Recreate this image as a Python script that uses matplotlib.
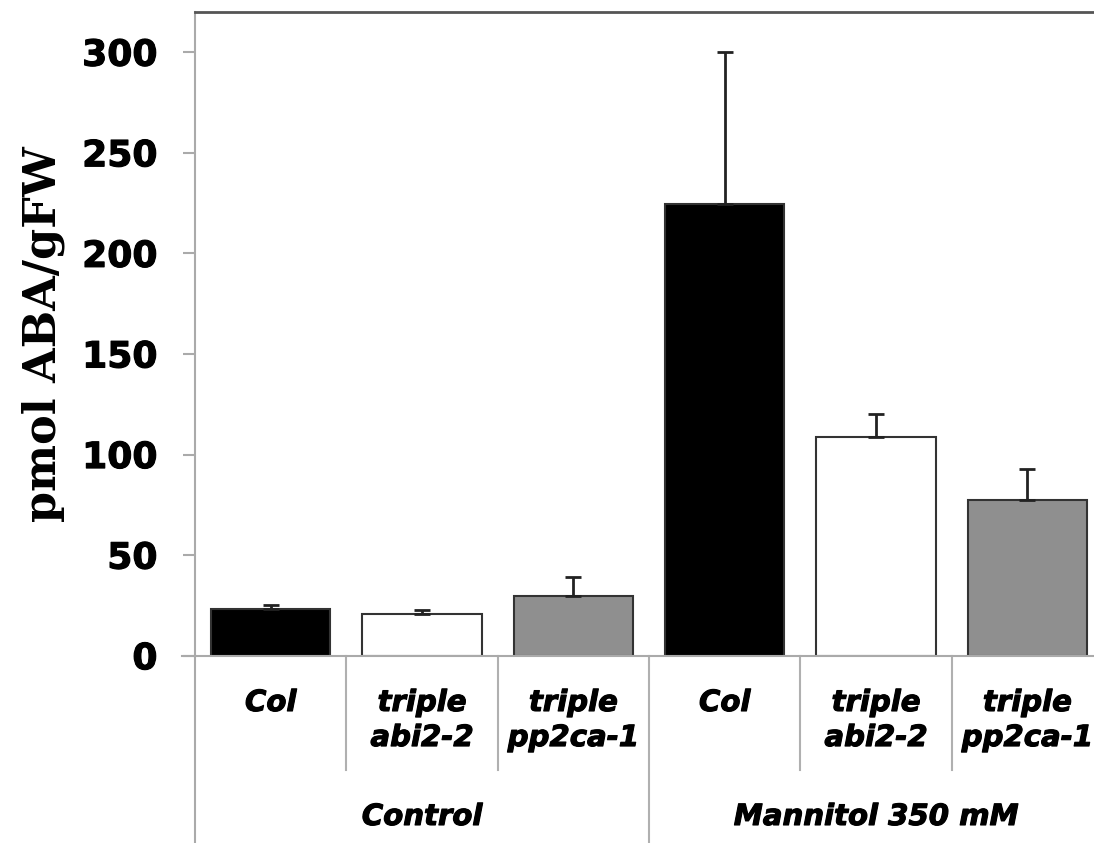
import matplotlib
matplotlib.use("Agg")
import matplotlib.pyplot as plt
import matplotlib.transforms as mtransforms
import matplotlib.patheffects as pe
import numpy as np

categories = ["Col", "triple\nabi2-2", "triple\npp2ca-1", "Col", "triple\nabi2-2", "triple\npp2ca-1"]
groups = ["Control", "Mannitol 350 mM"]
values = [23.2, 20.7, 29.7, 224.7, 108.8, 77.5]
errors = [2.0, 2.0, 9.6, 75.3, 11.2, 15.5]
colors = ["#000000", "#ffffff", "#8f8f8f", "#000000", "#ffffff", "#8f8f8f"]
yticks = [0, 50, 100, 150, 200, 250, 300]

W, H = 1094, 843
fig = plt.figure(figsize=(W / 100, H / 100), dpi=100)
ax_left, ax_right, ax_top, ax_bottom = 195, 1103, 12, 655.7
ax = fig.add_axes([ax_left / W, 1 - ax_bottom / H, (ax_right - ax_left) / W, (ax_bottom - ax_top) / H])

x = np.arange(len(values))
ax.bar(x, values, width=0.79, color=colors, edgecolor="#333333", linewidth=1.5, zorder=3)
ax.errorbar(x, values, yerr=[np.zeros(len(errors)), errors], fmt="none", ecolor="#222222",
            elinewidth=2, capsize=6, capthick=2, zorder=4)

heavy = [pe.withStroke(linewidth=0.8, foreground="black")]

ax.set_xlim(-0.5, len(values) - 0.5)
ax.set_ylim(0, 320)
ax.set_yticks(yticks)
ax.set_yticklabels([str(t) for t in yticks], fontsize=26, fontweight="bold", family="DejaVu Sans")
for t in ax.get_yticklabels():
    t.set_path_effects(heavy)
ax.tick_params(axis="y", length=9, width=1.5, color="#aaaaaa", pad=18)
ax.set_xticks([])

ax.spines["right"].set_visible(False)
ax.spines["top"].set_color("#555555")
ax.spines["top"].set_linewidth(2)
ax.spines["left"].set_color("#aaaaaa")
ax.spines["left"].set_linewidth(1.5)
ax.spines["bottom"].set_visible(False)

ax.set_ylabel("pmol ABA/gFW", fontsize=32, fontweight="bold", family="DejaVu Serif", labelpad=12)

axh = ax_bottom - ax_top
def yfrac(py):
    return -(py - ax_bottom) / axh

trans = mtransforms.blended_transform_factory(ax.transData, ax.transAxes)

ax.plot([-0.5 - 13 / 151.3, len(values) - 0.5], [0, 0], transform=trans, color="#aaaaaa",
        lw=1.5, clip_on=False, zorder=5)

ax.plot([-0.5, -0.5], [0, yfrac(H + 5)], transform=trans, color="#aaaaaa", lw=1.5, clip_on=False)
for b in range(1, len(values)):
    bx = b - 0.5
    if b % 3 == 0:
        ax.plot([bx, bx], [0, yfrac(H + 5)], transform=trans, color="#b0b0b0", lw=1.5, clip_on=False)
    else:
        ax.plot([bx, bx], [0, yfrac(770)], transform=trans, color="#b0b0b0", lw=1.5, clip_on=False)

for xi, lab in zip(x, categories):
    ax.text(xi, yfrac(689), lab, transform=trans, ha="center", va="top", fontsize=21,
            fontweight="bold", fontstyle="italic", family="DejaVu Sans", linespacing=1.32,
            path_effects=heavy)

for gi, g in enumerate(groups):
    ax.text(gi * 3 + 1, yfrac(817), g, transform=trans, ha="center", va="center", fontsize=21,
            fontweight="bold", fontstyle="italic", family="DejaVu Sans", path_effects=heavy)

fig.savefig("out.png", dpi=100)
